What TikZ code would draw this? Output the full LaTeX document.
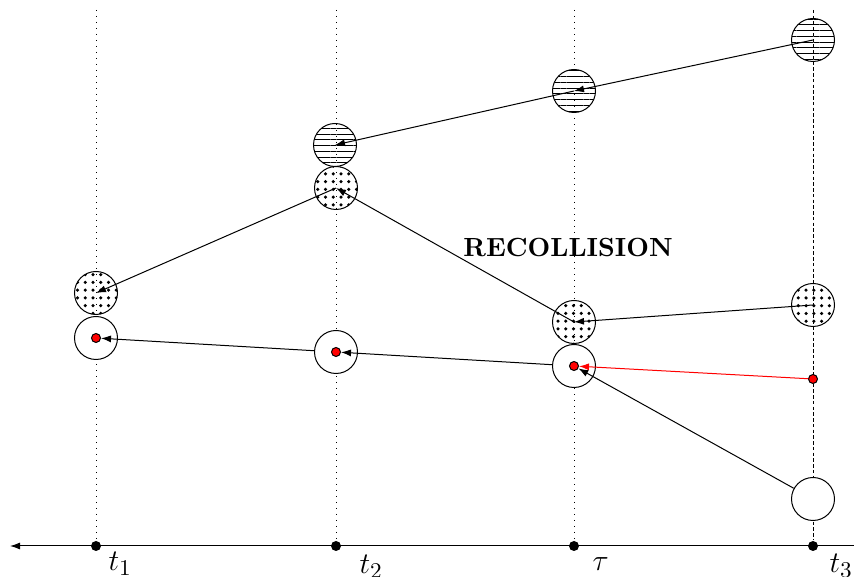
\documentclass[tikz,border=0pt]{standalone}
\usetikzlibrary{arrows.meta,patterns.meta}
\begin{document}
\begin{tikzpicture}[x=0.4pt,y=-0.4pt]
\useasboundingbox (0,0) rectangle (854,577);
\tikzset{ball/.style={circle,draw,inner sep=0pt,minimum size=17.2pt},
  plainball/.style={ball,fill=white},
  dotball/.style={ball,pattern={Dots[distance=3.1pt,radius=0.7pt]}},
  lineball/.style={ball,pattern={Lines[angle=0,distance=2.3pt,line width=0.4pt]}},
  reddot/.style={circle,draw,fill=red,inner sep=0pt,minimum size=3.6pt},
  tickdot/.style={circle,fill,inner sep=0pt,minimum size=4pt},
  mystyle/.style={-{Latex[length=4pt,width=2.8pt]}},
  tlabel/.style={anchor=base west,inner sep=0pt,font=\fontsize{13}{15}\selectfont}}

% time axis
\node[tickdot] (k1) at (96,546) {};
\node[tickdot] (k2) at (336,546) {};
\node[tickdot] (kT) at (574,546) {};
\node[tickdot] (k3) at (813,546) {};
\coordinate (top1) at (96,10);
\coordinate (top2) at (336,10);
\coordinate (topT) at (574,10);
\coordinate (top3) at (813,10);
\path (top1) edge [dotted] (k1);
\path (top2) edge [dotted] (k2);
\path (topT) edge [dotted] (kT);
\path (top3) edge [dash pattern=on 1.4pt off 0.9pt] (k3);
\coordinate (axR) at (854,546);
\coordinate (axL) at (10,546);
\path (axR) edge [-{Latex[length=4pt,width=2.8pt]}] (axL);

\node[tlabel] (l1) at (108,571) {$t_1$};
\node[tlabel] (l2) at (359,574) {$t_2$};
\node[tlabel] (lT) at (592,571) {$\tau$};
\node[tlabel] (l3) at (829,573) {$t_3$};

% particles
\node[lineball] (h2) at (335,145) {};
\node[lineball] (hT) at (574,91) {};
\node[lineball] (h3) at (813,40) {};

\node[dotball] (d1) at (96,293) {};
\node[dotball] (d2) at (336,188) {};
\node[dotball] (dT) at (574,322) {};
\node[dotball] (d3) at (813,305) {};

\node[plainball] (c1) at (96,338) {};
\node[plainball] (c2) at (336,352) {};
\node[plainball] (cT) at (574,366) {};
\node[plainball] (c3) at (813,499) {};

\node[reddot] (r1) at (96,338) {};
\node[reddot] (r2) at (336,352) {};
\node[reddot] (rT) at (574,366) {};
\node[reddot] (r3) at (813,379) {};

\node[anchor=base,inner sep=0pt,font=\fontsize{10.5}{12}\bfseries] (rec) at (568,257) {RECOLLISION};

% trajectories
\path (h3.center) edge [mystyle] (hT.center);
\path (hT.center) edge [mystyle] (h2.center);
\path (dT.center) edge [mystyle] (d2.center);
\path (d2.center) edge [mystyle] (d1.center);
\path (d3.center) edge [mystyle] (dT.center);
\path (r3) edge [mystyle,red] (rT);
\path (c3) edge [mystyle] (rT);
\path (cT) edge [mystyle] (r2);
\path (c2) edge [mystyle] (r1);
\end{tikzpicture}
\end{document}
